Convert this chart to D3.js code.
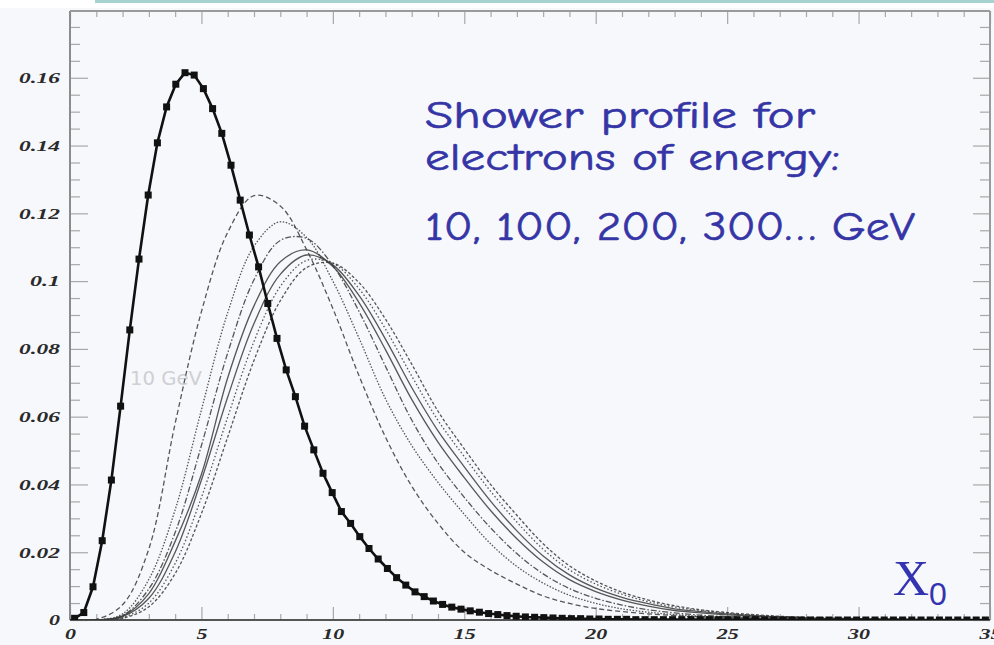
<!DOCTYPE html>
<html><head><meta charset="utf-8">
<script src="https://cdn.jsdelivr.net/npm/d3@7"></script>
<style>html,body{margin:0;padding:0;background:#f7f8fc;} svg{display:block}</style>
</head><body><svg id="c" width="994" height="645"></svg>
<script>
// ---------- DATA ----------
const depth = [0,1,2,3,4,5,6,7,8,9,10,11,12,13,14,15,16,17,18,19,20,21,22,23,24,25,26,27,28,29,30,31,32,33,34,35];
const e100 = [0,0.0002,0.0045,0.021,0.058,0.091,0.1144,0.1252,0.1222,0.1093,0.0919,0.072,0.054,0.0395,0.0285,0.020,0.0147,0.0106,0.0071,0.0049,0.0034,0.0025,0.0018,0.0013,0.0009,0.0007,0.0004,0.0003,0.0003,0.0002,0.0001,0.0001,0,0,0,0];
const e200 = [0,0,0.0018,0.012,0.0325,0.062,0.0907,0.1103,0.1175,0.1129,0.100,0.0831,0.0653,0.0515,0.0406,0.0312,0.0225,0.0158,0.0109,0.0073,0.0049,0.0033,0.0023,0.0016,0.0011,0.0008,0.0006,0.0004,0.0003,0.0002,0.0001,0.0001,0,0,0,0];
const e300 = [0,0,0.0013,0.0092,0.0258,0.0515,0.0788,0.1004,0.112,0.1126,0.1046,0.091,0.0749,0.059,0.0463,0.0362,0.0272,0.0196,0.0136,0.0093,0.0064,0.0044,0.003,0.0021,0.0014,0.001,0.0007,0.0005,0.0003,0.0002,0.0001,0.0001,0,0,0,0];
const e400 = [0,0,0.0012,0.0078,0.0232,0.043,0.0715,0.0927,0.1057,0.1092,0.1043,0.0936,0.0798,0.0651,0.0525,0.042,0.0323,0.024,0.0171,0.0119,0.0084,0.0059,0.0041,0.0028,0.0021,0.0015,0.0011,0.0008,0.0005,0.0004,0.0003,0.0002,0.0001,0.0001,0,0];
const e500 = [0,0,0.001,0.0064,0.020,0.0413,0.0658,0.0875,0.102,0.1077,0.1048,0.0957,0.0829,0.0686,0.0558,0.0452,0.0351,0.0263,0.0189,0.0133,0.0094,0.0067,0.0048,0.0033,0.0025,0.0018,0.0013,0.0009,0.0006,0.0004,0.0003,0.0002,0.0001,0.0001,0,0];
const e600 = [0,0,0.0007,0.005,0.0167,0.0362,0.0599,0.0822,0.0984,0.1061,0.1053,0.0977,0.0859,0.072,0.0589,0.0482,0.038,0.0289,0.0209,0.0148,0.0106,0.0076,0.0054,0.0038,0.0028,0.002,0.0014,0.001,0.0007,0.0005,0.0004,0.0003,0.0002,0.0001,0.0001,0];
const e700 = [0,0,0.0005,0.0039,0.0137,0.0314,0.054,0.0766,0.0942,0.104,0.1053,0.0995,0.0888,0.0755,0.0616,0.0505,0.04,0.0309,0.0225,0.016,0.0115,0.0082,0.0059,0.0042,0.003,0.0022,0.0016,0.0011,0.0008,0.0006,0.0004,0.0003,0.0002,0.0001,0.0001,0];
// 10 GeV histogram: 100 bins of 0.35 X0
const binWidth = 0.35;
const e10 = [0.0005,0.0022,0.0098,0.0234,0.0413,0.0631,0.0856,0.1065,0.1254,0.1408,
0.1514,0.1581,0.1615,0.1608,0.1568,0.1509,0.1436,0.1342,0.1239,0.1136,
0.1042,0.0934,0.0831,0.0738,0.0659,0.0572,0.0502,0.0433,0.0376,0.0320,
0.0285,0.0246,0.0211,0.0180,0.0152,0.0125,0.0103,0.0083,0.0069,0.0056,
0.0046,0.0038,0.0032,0.0027,0.0023,0.0019,0.0016,0.0013,0.0011,0.0009,
0.0008,0.0007,0.0006,0.0005,0.0004,0.0004,0.0003,0.0003,0.0002,0.0002,
0.0002,0.0001,0.0001,0.0001,0.0001,0.0001,0.0001,0.0001,0.0001,0.0001,
0.0001,0.0001,0.0001,0.0001,0.0001,0,0,0,0,0,
0,0,0,0,0,0,0,0,0,0,
0,0,0,0,0,0,0,0,0,0];
const seriesNames = ["100 GeV","200 GeV","300 GeV","400 GeV","500 GeV","600 GeV","700 GeV"];
const seriesValues = [e100,e200,e300,e400,e500,e600,e700];
const seriesDash = ["5,3","1.5,1.6","6,2,1.5,2",null,null,"1.5,2.2","3,2"];
const xTicks = [0,5,10,15,20,25,30,35];
const yTicks = [0,0.02,0.04,0.06,0.08,0.1,0.12,0.14,0.16];
const textLines = ["Shower profile for","electrons of energy:","10, 100, 200, 300… GeV"];

// ---------- CHART ----------
const svg = d3.select('#c');
const L=70,R=990,T=11,B=620;
const x = d3.scaleLinear().domain([0,35]).range([L,R]);
const y = d3.scaleLinear().domain([0,0.18]).range([B,10]);

svg.append('rect').attr('width',994).attr('height',645).attr('fill','#f7f8fc');
svg.append('rect').attr('width',994).attr('height',8).attr('fill','#ffffff');
svg.append('rect').attr('x',95).attr('y',0).attr('width',899).attr('height',3).attr('fill','#a6d3d0');

svg.append('defs').append('clipPath').attr('id','clip')
  .append('rect').attr('x',L).attr('y',T).attr('width',R-L).attr('height',B-T);

const minorY = d3.range(0,0.1801,0.005).filter(v=>Math.abs(Math.round(v/0.02)*0.02-v)>1e-6);
const minorX = d3.range(0,35.01,1).filter(v=>v%5!==0);

function lbl(s){let n=0;for(const c of s){n+= c==='.'?8:11;}return n;}
const fmtY = d=> d===0?"0":String(+d.toFixed(2));

// left axis
const gl = svg.append('g').attr('transform',`translate(${L},0)`);
gl.call(d3.axisLeft(y).tickValues(yTicks).tickFormat(fmtY).tickSize(-18).tickPadding(10));
gl.append('g').call(d3.axisLeft(y).tickValues(minorY).tickFormat('').tickSize(-10));
// right axis
const gr = svg.append('g').attr('transform',`translate(${R},0)`);
gr.call(d3.axisRight(y).tickValues(yTicks).tickFormat('').tickSize(-17));
gr.append('g').call(d3.axisRight(y).tickValues(minorY).tickFormat('').tickSize(-10));
// top axis
const gt = svg.append('g').attr('transform',`translate(0,${T})`);
gt.call(d3.axisTop(x).tickValues(xTicks).tickFormat('').tickSize(-13));
gt.append('g').call(d3.axisTop(x).tickValues(minorX).tickFormat('').tickSize(-6));
// bottom axis
const gb = svg.append('g').attr('transform',`translate(0,${B})`);
gb.call(d3.axisBottom(x).tickValues(xTicks).tickFormat(d=>String(d)).tickSize(-13).tickPadding(8));
gb.append('g').call(d3.axisBottom(x).tickValues(minorX).tickFormat('').tickSize(-6));

svg.selectAll('.domain').remove();
svg.selectAll('.tick line').attr('stroke','#a8a8a8').attr('stroke-width',1.2);
svg.selectAll('.tick text')
  .attr('font-family','"Liberation Serif", serif').attr('font-weight','bold').attr('font-style','italic')
  .attr('font-size',15).attr('fill','#2a2a2a')
  .each(function(){const s=this.textContent; d3.select(this).attr('textLength',lbl(s)).attr('lengthAdjust','spacingAndGlyphs');});

// frame
svg.append('line').attr('x1',L).attr('x2',L).attr('y1',T).attr('y2',B).attr('stroke','#8c8c8c').attr('stroke-width',2);
svg.append('line').attr('x1',L).attr('x2',R).attr('y1',T).attr('y2',T).attr('stroke','#9a9a9a').attr('stroke-width',2);
svg.append('line').attr('x1',R).attr('x2',R).attr('y1',T).attr('y2',B).attr('stroke','#9a9a9a').attr('stroke-width',2);
svg.append('line').attr('x1',L).attr('x2',R).attr('y1',B).attr('y2',B).attr('stroke','#555').attr('stroke-width',2);

// faint label
svg.append('text').attr('x',130).attr('y',385).text('10 GeV')
  .attr('font-family','"DejaVu Sans", sans-serif').attr('font-size',19).attr('fill','#cfcfd4')
  .attr('textLength',72).attr('lengthAdjust','spacingAndGlyphs');

const plot = svg.append('g').attr('clip-path','url(#clip)');
const line = d3.line().x(d=>x(d[0])).y(d=>y(d[1])).curve(d3.curveCatmullRom.alpha(0.5));
seriesValues.forEach((vals,i)=>{
  plot.append('path').datum(depth.map((t,j)=>[t,vals[j]]))
    .attr('d',line).attr('fill','none').attr('stroke','#3a3a3a').attr('stroke-width',1.3)
    .attr('stroke-dasharray',seriesDash[i]).attr('opacity',0.85)
    .attr('class','s-'+seriesNames[i].replace(' ',''));
});

// 10 GeV histogram (markers joined by a thick line)
const pts = e10.map((v,i)=>[(i+0.5)*binWidth, v]);
plot.append('path').datum(pts)
  .attr('d',d3.line().x(d=>x(d[0])).y(d=>y(d[1])))
  .attr('fill','none').attr('stroke','#111').attr('stroke-width',2.6);
plot.selectAll('rect.m').data(pts).enter().append('rect').attr('class','m')
  .attr('x',d=>x(d[0])-3.5).attr('y',d=>y(d[1])-3.5).attr('width',7).attr('height',7).attr('fill','#111');

// annotation text
const tf = '"Comic Sans MS","Comic Neue","Open Sans",sans-serif';
const tw = [390,415,490], ty=[128,170,240], ts=[38,38,40];
textLines.forEach((s,i)=>{
  svg.append('text').attr('x',425).attr('y',ty[i]).text(s)
    .attr('font-family',tf).attr('font-size',ts[i]).attr('fill','#3535a6')
    .attr('stroke','#3535a6').attr('stroke-width',0.6)
    .attr('textLength',tw[i]).attr('lengthAdjust','spacingAndGlyphs');
});
const xo = svg.append('text').attr('x',893).attr('y',595).attr('fill','#3434b0');
xo.append('tspan').text('X').attr('font-family','"Liberation Serif", serif').attr('font-size',50);
xo.append('tspan').text('0').attr('font-family','"Liberation Sans", sans-serif').attr('font-size',32).attr('dy',10);
</script>
</body></html>
